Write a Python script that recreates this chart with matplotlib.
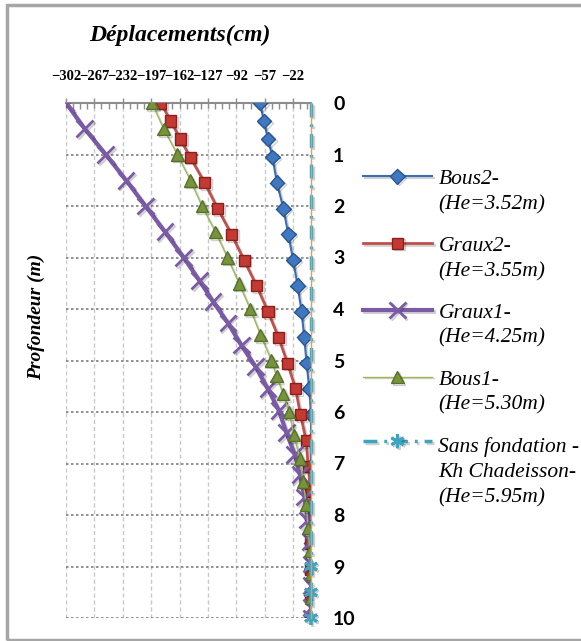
import numpy as np
import matplotlib
matplotlib.use("Agg")
import matplotlib.pyplot as plt
import matplotlib.patheffects as pe
from matplotlib import font_manager as fm
from matplotlib.legend_handler import HandlerLine2D
from matplotlib.patches import Rectangle

# depth (m) and displacement (cm) for each case
depth_bous2 = [0, 0.35, 0.7, 1.05, 1.55, 2.05, 2.55, 3.05, 3.55, 4.05, 4.55, 5.05,
               5.55, 6.05, 6.55, 7.05, 7.55, 8.05, 8.55, 9.05, 9.55, 10]
disp_bous2 = [-63, -58, -53, -47.5, -42, -34, -28, -22, -16.5, -11.6, -8.4, -5.4,
              -2.2, 0, 0, 0, 0, 0, 0, 0, 0, 0]

depth_graux2 = depth_bous2
disp_graux2 = [-185, -173, -161, -149, -131, -115, -98, -82.5, -67, -53, -40, -29,
               -19, -13, -6, -3.5, -0.5, 0, 0, 0, 0, 0]

depth_graux1 = [0, 0.5, 1, 1.5, 2, 2.5, 3, 3.45, 3.85, 4.27, 4.7, 5.12, 5.55, 5.97,
                6.4, 6.82, 7.22, 7.65, 8.1, 8.52, 8.95, 9.37, 9.8, 10]
disp_graux1 = [-302, -279, -253, -228, -204, -180, -157, -137.5, -121, -102.5, -86,
               -68.4, -53.2, -39.6, -30.4, -20.1, -13.7, -8, -4, -1, 0, 0, 0, 0]

depth_bous1 = [0, 0.5, 1, 1.5, 2, 2.5, 3, 3.5, 4, 4.5, 5, 5.3, 5.65, 6, 6.45, 6.9,
               7.35, 7.8, 8.25, 8.7, 9.15, 9.6, 10]
disp_bous1 = [-196, -181.7, -164.8, -148.7, -134.4, -117.9, -103, -88.7, -75, -62.3,
              -48.7, -42.5, -34.3, -26.9, -21.1, -13.7, -9.6, -5.9, -3.5, -1.4, 0, 0, 0]

depth_sans = [0, 0.5, 1, 1.5, 2, 2.5, 3, 3.5, 4, 4.5, 5, 5.5, 6, 6.5, 7, 7.5, 8,
              8.5, 9, 9.5, 10]
disp_sans = [0] * 21

depth_edge = [0, 10]
disp_edge = [0, 0]

x_ticks = [-302, -267, -232, -197, -162, -127, -92, -57, -22]
y_ticks = list(range(0, 11))

labels = ["Bous2-\n(He=3.52m)", "Graux2-\n(He=3.55m)", "Graux1-\n(He=4.25m)",
          "Bous1-\n(He=5.30m)", "Sans fondation -\nKh Chadeisson-\n(He=5.95m)"]

installed = {f.name for f in fm.fontManager.ttflist}
SERIF = next((n for n in ["Liberation Serif", "Times New Roman", "DejaVu Serif"]
              if n in installed), "serif")


class HandlerFirstLine(HandlerLine2D):
    # put the legend sample level with the first text line
    def __init__(self, nlines, **kw):
        super().__init__(**kw)
        self.nlines = nlines

    def create_artists(self, legend, orig_handle, xdescent, ydescent, width,
                       height, fontsize, trans):
        arts = super().create_artists(legend, orig_handle, xdescent, ydescent,
                                      width, height, fontsize, trans)
        shift = (self.nlines - 1) / 2 * 1.42 * fontsize
        for a in arts:
            a.set_ydata(np.asarray(a.get_ydata(), dtype=float) + shift)
        return arts


fig = plt.figure(figsize=(5.81, 6.41), dpi=100)
ax = fig.add_axes([66 / 581, 1 - 618 / 641, 245 / 581, 515 / 641])

shadow = [pe.SimpleLineShadow(offset=(1.2, -1.2), alpha=0.18), pe.Normal()]

l1, = ax.plot(disp_bous2, depth_bous2, color="#3C6EB4", lw=1.5, marker="D",
              ms=7.5, mfc="#3F78C0", mec="#2A5590", path_effects=shadow, zorder=3)
l2, = ax.plot(disp_graux2, depth_graux2, color="#C0504D", lw=2, marker="s",
              ms=8, mfc="#C23A33", mec="#8B1F1A", path_effects=shadow, zorder=4)
l3, = ax.plot(disp_graux1, depth_graux1, color="#7B5BA6", lw=3, marker="x",
              ms=12, mew=2, path_effects=shadow, zorder=5)
l4, = ax.plot(disp_bous1, depth_bous1, color="#9BBB59", lw=1, marker="^",
              ms=9, mfc="#77933C", mec="#56702A", path_effects=shadow, zorder=6)
l5, = ax.plot(disp_sans, depth_sans, color="#3FA4C0", lw=2.5,
              ls=(0, (4, 2, 0.8, 2)), marker=(6, 2, 0), ms=10, mew=2,
              mec="#3FA4C0", markevery=[18, 19, 20], clip_on=False,
              path_effects=shadow, zorder=7)
ax.plot(disp_edge, depth_edge, color="#F79646", lw=1, clip_on=False, zorder=8)

ax.set_xlim(-302, 0)
ax.set_ylim(10, 0)

ax.xaxis.tick_top()
ax.set_xticks(x_ticks)
ax.set_xticks(np.arange(-302, 0, 8.75), minor=True)
ax.tick_params(axis="x", which="major", direction="inout", length=7, width=1,
               color="#8C8C8C", pad=11, labelsize=10.5)
ax.tick_params(axis="x", which="minor", direction="in", length=4, width=1,
               color="#8C8C8C")
for t in ax.get_xticklabels():
    t.set_fontfamily(SERIF)
    t.set_fontweight("bold")

ax.yaxis.tick_right()
ax.set_yticks(y_ticks)
ax.tick_params(axis="y", length=0, pad=16, labelsize=14)
for t in ax.get_yticklabels():
    t.set_fontfamily("Lato")
    t.set_fontweight("bold")

ax.grid(axis="y", color="#7F7F7F", ls=(0, (1.5, 1.5)), lw=1.2)
ax.grid(axis="x", color="#C8C8C8", ls=(0, (3, 2)), lw=1)
ax.set_axisbelow(True)
for s in ["left", "right", "bottom"]:
    ax.spines[s].set_visible(False)
ax.spines["top"].set_color("#8C8C8C")
ax.spines["top"].set_linewidth(1.5)

fig.text(180 / 581, 1 - 35 / 641, "Déplacements(cm)", ha="center", va="center",
         family=SERIF, weight="bold", style="italic", fontsize=17)
fig.text(36 / 581, 1 - 317 / 641, "Profondeur (m)", ha="center", va="center",
         rotation=90, family=SERIF, weight="bold", style="italic", fontsize=14)

handles = [l1, l2, l3, l4, l5]
leg = fig.legend(handles, labels, loc="upper left",
                 bbox_to_anchor=(363 / 581, 1 - 170 / 641), frameon=False,
                 prop={"family": SERIF, "style": "italic", "size": 15.5},
                 handlelength=3.2, handletextpad=0.3, labelspacing=1.05,
                 borderpad=0, borderaxespad=0,
                 handler_map={h: HandlerFirstLine(lab.count("\n") + 1)
                              for h, lab in zip(handles, labels)})
for t in leg.get_texts():
    t.set_linespacing(1.42)

fig.patches.append(Rectangle((7 / 581, 1 - 640 / 641), 1.2, 635 / 641,
                             transform=fig.transFigure, fill=False,
                             edgecolor="#A6A6A6", lw=2.5))

fig.savefig("out.png", dpi=100)
